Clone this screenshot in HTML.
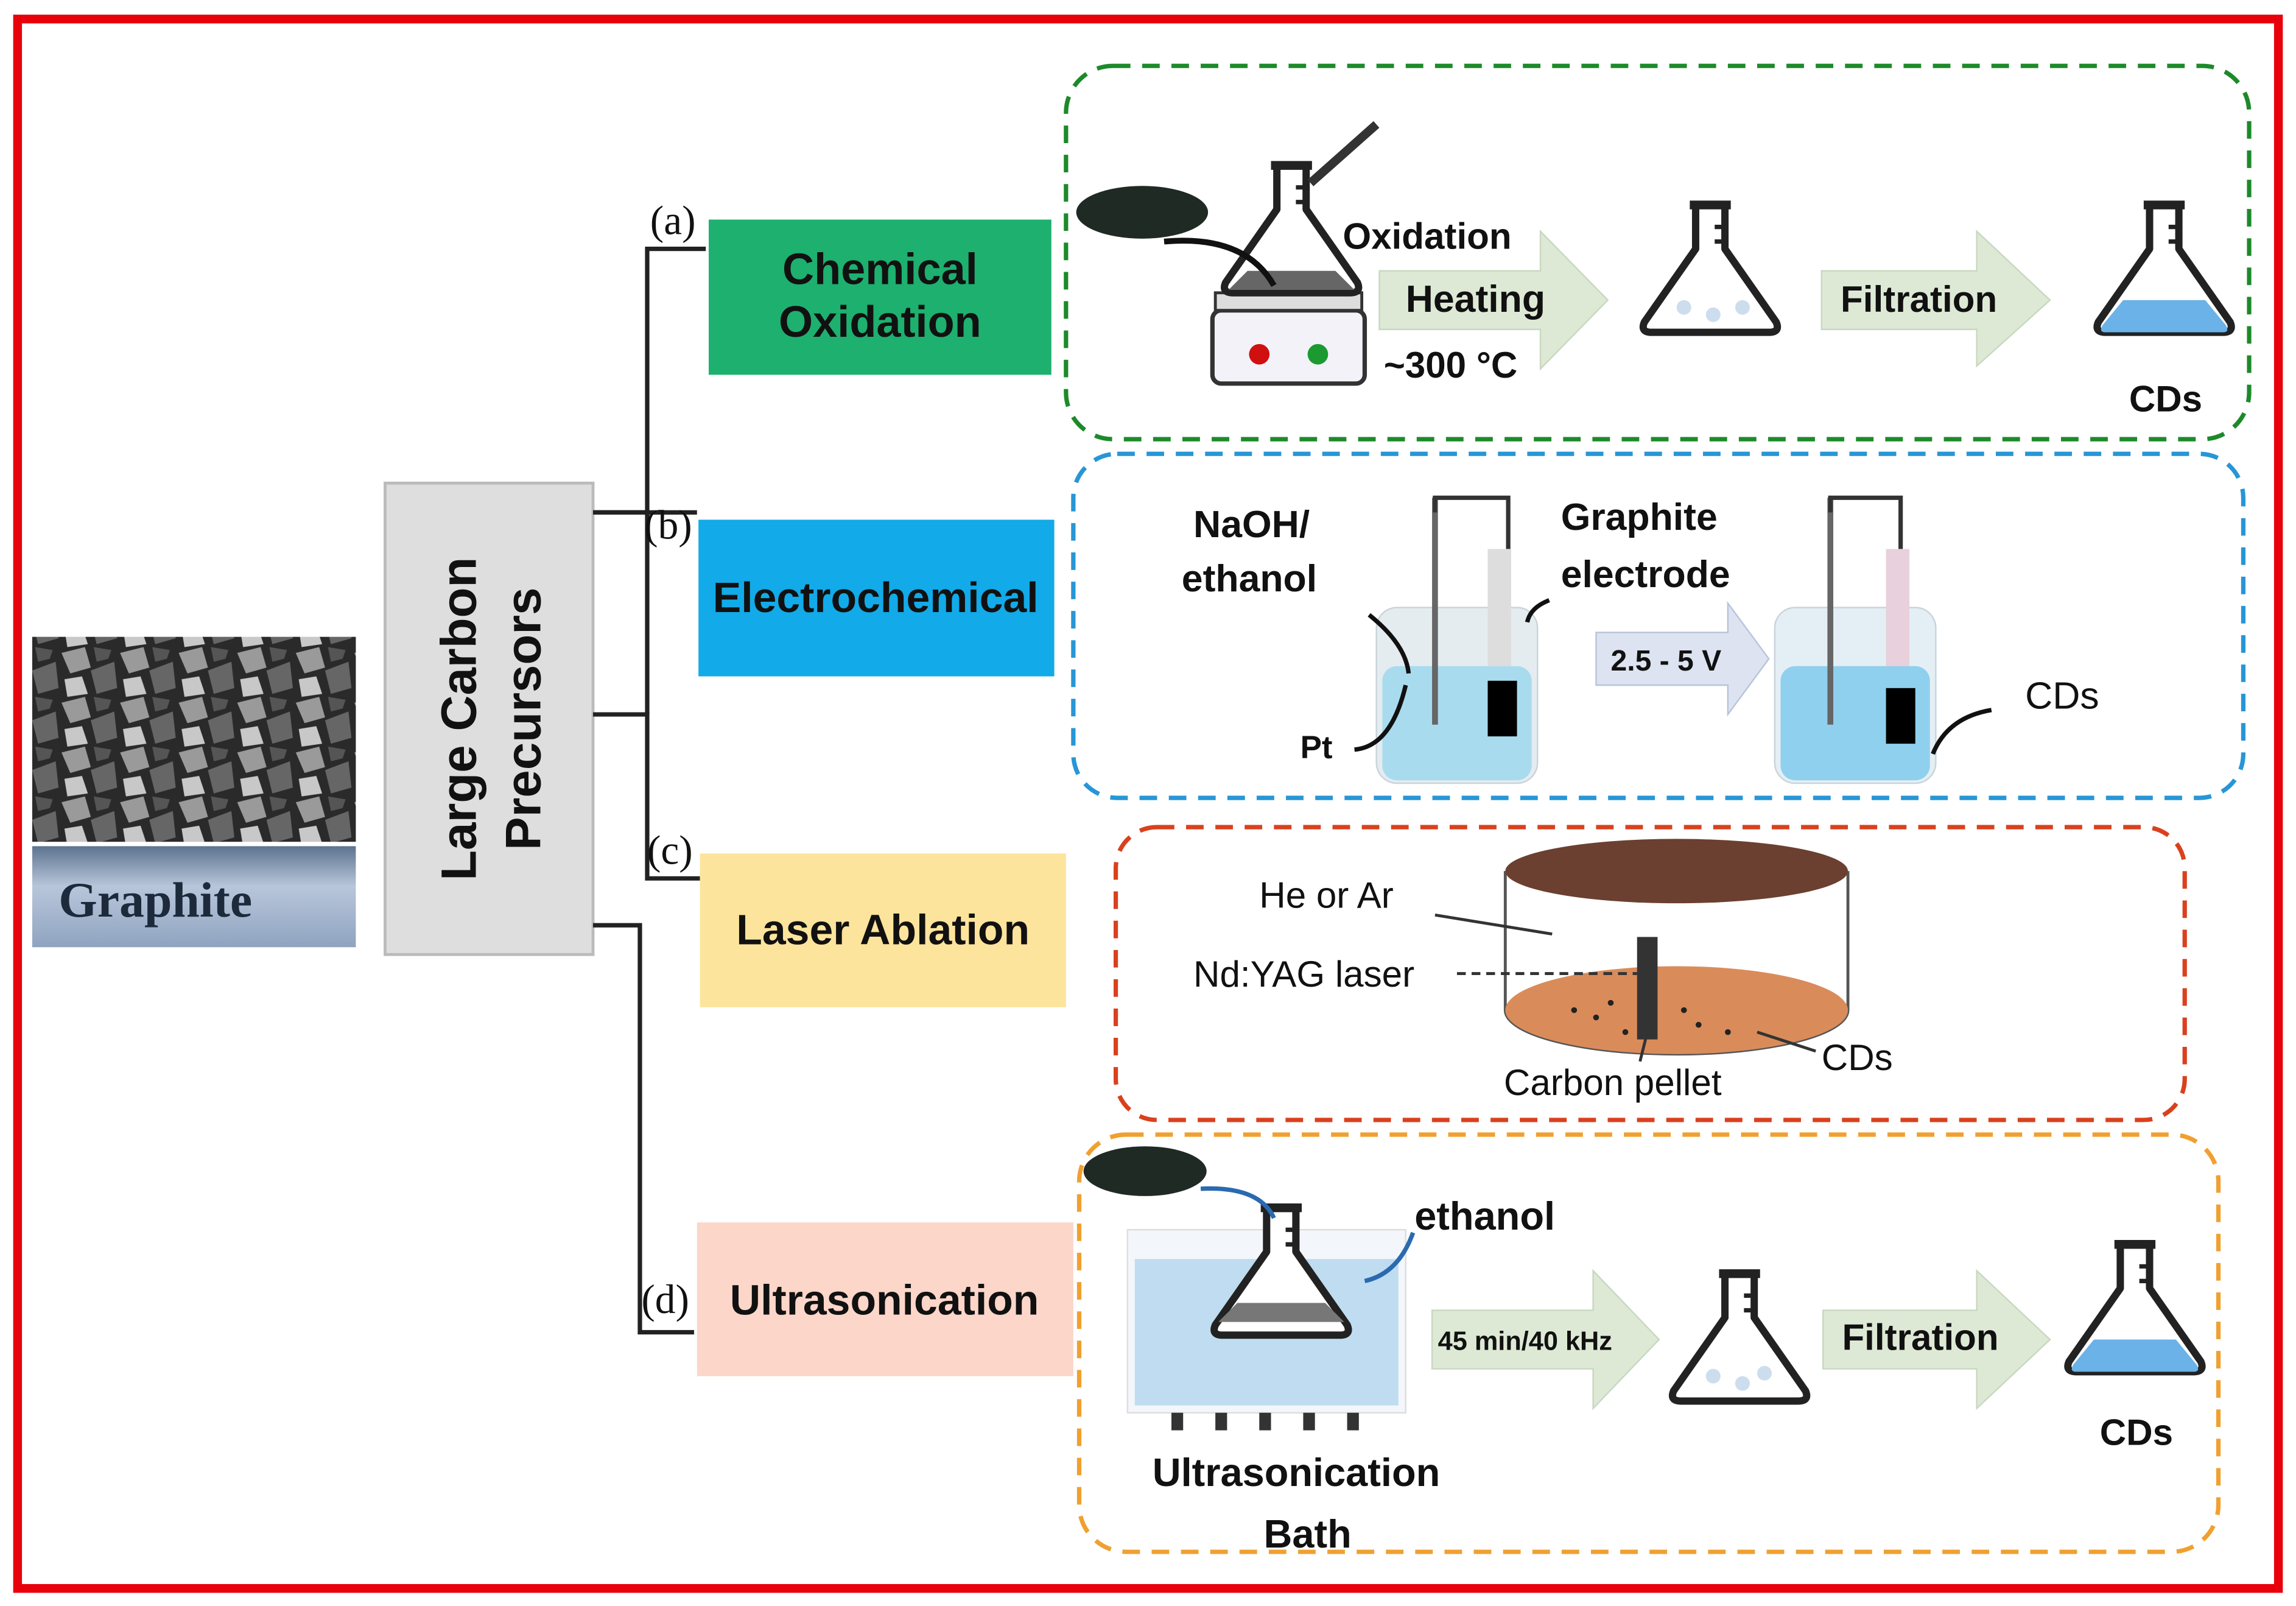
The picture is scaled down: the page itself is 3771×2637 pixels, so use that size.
<!DOCTYPE html>
<html><head><meta charset="utf-8"><style>
html,body{margin:0;padding:0;background:#fff;}
svg{display:block;}
text{font-family:"Liberation Sans",sans-serif;font-weight:bold;fill:#111;}
</style></head><body>
<svg width="3771" height="2637" viewBox="0 0 1568 1097" preserveAspectRatio="none" xmlns="http://www.w3.org/2000/svg">
<defs>
<linearGradient id="gb" x1="0" y1="0" x2="0" y2="1"><stop offset="0" stop-color="#5d7390"/><stop offset="0.4" stop-color="#b8c6da"/><stop offset="1" stop-color="#8fa3c0"/></linearGradient>
<linearGradient id="gr" x1="0" y1="0" x2="1" y2="1"><stop offset="0" stop-color="#333"/><stop offset="0.5" stop-color="#888"/><stop offset="1" stop-color="#222"/></linearGradient>
<pattern id="rock" width="40" height="34" patternUnits="userSpaceOnUse"><rect width="40" height="34" fill="#2a2a2a"/><polygon points="2,4 18,0 22,14 8,18" fill="#9a9a9a"/><polygon points="22,16 38,10 40,28 26,32" fill="#666"/><polygon points="4,22 16,20 20,32 6,34" fill="#c8c8c8"/><polygon points="24,0 36,2 34,8 26,10" fill="#555"/></pattern>
<g id="flask"><path d="M-10,-45 L10,-45 L10,-15 L45,35 Q48,42 40,42 L-40,42 Q-48,42 -45,35 L-10,-15 Z" fill="#fff" stroke="#222" stroke-width="5" stroke-linejoin="round"/><line x1="-14" y1="-45" x2="14" y2="-45" stroke="#222" stroke-width="6"/><line x1="3" y1="-30" x2="10" y2="-30" stroke="#222" stroke-width="3"/><line x1="3" y1="-20" x2="10" y2="-20" stroke="#222" stroke-width="3"/></g>
</defs>
<rect x="0" y="0" width="1568" height="1097" fill="#fff"/>
<rect x="12" y="13" width="1544" height="1072" fill="none" stroke="#e8000b" stroke-width="6"/>

<!-- graphite -->
<rect x="22" y="435" width="221" height="140" fill="url(#rock)"/>
<rect x="22" y="578" width="221" height="69" fill="url(#gb)"/>
<text x="40" y="626" style="font-family:'Liberation Serif',serif;font-size:34px;fill:#1c2a3c">Graphite</text>

<!-- large carbon precursors -->
<rect x="263" y="330" width="142" height="322" fill="#dedede" stroke="#bbb" stroke-width="2"/>
<text transform="translate(325,491) rotate(-90)" text-anchor="middle" style="font-size:34px">Large Carbon</text>
<text transform="translate(369,491) rotate(-90)" text-anchor="middle" style="font-size:34px">Precursors</text>

<!-- tree lines -->
<g stroke="#222" stroke-width="3" fill="none">
<polyline points="482,170 442,170 442,350 405,350"/>
<polyline points="405,350 442,350 442,350"/>
<polyline points="476,350 442,350"/>
<polyline points="405,488 442,488 442,600 478,600"/>
<line x1="442" y1="350" x2="442" y2="488"/>
<polyline points="405,632 437,632 437,910 474,910"/>
</g>
<g style="font-family:'Liberation Serif',serif" >
<text x="444" y="160" style="font-family:'Liberation Serif',serif;font-weight:normal;font-size:28px">(a)</text>
<text x="440" y="368" style="font-family:'Liberation Serif',serif;font-weight:normal;font-size:28px">(b)</text>
<text x="442" y="590" style="font-family:'Liberation Serif',serif;font-weight:normal;font-size:28px">(c)</text>
<text x="438" y="897" style="font-family:'Liberation Serif',serif;font-weight:normal;font-size:28px">(d)</text>
</g>

<!-- method boxes -->
<rect x="484" y="150" width="234" height="106" fill="#1db06f"/>
<text x="601" y="194" text-anchor="middle" style="font-size:30px">Chemical</text>
<text x="601" y="230" text-anchor="middle" style="font-size:30px">Oxidation</text>
<rect x="477" y="355" width="243" height="107" fill="#12aae8"/>
<text x="598" y="418" text-anchor="middle" style="font-size:29px">Electrochemical</text>
<rect x="478" y="583" width="250" height="105" fill="#fde49c"/>
<text x="603" y="645" text-anchor="middle" style="font-size:29px">Laser Ablation</text>
<rect x="476" y="835" width="257" height="105" fill="#fbd6c9"/>
<text x="604" y="898" text-anchor="middle" style="font-size:29px">Ultrasonication</text>

<!-- dashed panels -->
<rect x="728" y="45" width="808" height="255" rx="32" fill="none" stroke="#1d8a2a" stroke-width="3" stroke-dasharray="12,8"/>
<rect x="733" y="310" width="799" height="235" rx="30" fill="none" stroke="#2796d6" stroke-width="3" stroke-dasharray="12,8"/>
<rect x="762" y="565" width="730" height="200" rx="28" fill="none" stroke="#d9411e" stroke-width="3" stroke-dasharray="12,8"/>
<rect x="737" y="775" width="778" height="285" rx="32" fill="none" stroke="#f0a030" stroke-width="3" stroke-dasharray="12,8"/>

<!-- panel a -->
<ellipse cx="780" cy="145" rx="45" ry="18" fill="#1f2a24"/>
<rect x="828" y="212" width="104" height="50" rx="6" fill="#f2f2f8" stroke="#333" stroke-width="3"/>
<rect x="830" y="200" width="100" height="12" fill="#ddd" stroke="#333" stroke-width="2"/>
<circle cx="860" cy="242" r="7" fill="#d01010"/><circle cx="900" cy="242" r="7" fill="#1a9a30"/>
<use href="#flask" x="882" y="158"/>
<path d="M852,185 L912,185 L925,198 L839,198 Z" fill="#666"/>
<line x1="895" y1="125" x2="940" y2="85" stroke="#333" stroke-width="6"/>
<path d="M795,165 Q850,160 870,195" stroke="#111" stroke-width="4" fill="none"/>
<text x="917" y="170" style="font-size:25px">Oxidation</text>
<polygon points="942,185 1052,185 1052,158 1098,205 1052,252 1052,225 942,225" fill="#dde9d5" stroke="#c8d8c0"/>
<text x="960" y="213" style="font-size:26px">Heating</text>
<text x="945" y="258" style="font-size:25px">~300 °C</text>
<use href="#flask" x="1168" y="185"/>
<circle cx="1150" cy="210" r="5" fill="#cde"/><circle cx="1170" cy="215" r="5" fill="#cde"/><circle cx="1190" cy="210" r="5" fill="#cde"/>
<polygon points="1244,185 1350,185 1350,158 1400,205 1350,250 1350,225 1244,225" fill="#dde9d5" stroke="#c8d8c0"/>
<text x="1257" y="213" style="font-size:25px">Filtration</text>
<use href="#flask" x="1478" y="185"/>
<path d="M1450,205 L1506,205 L1520,222 Q1523,227 1518,227 L1438,227 Q1433,227 1436,222 Z" fill="#6ab2e8"/>
<text x="1454" y="281" style="font-size:25px">CDs</text>

<!-- panel b -->
<text x="815" y="367" style="font-size:26px">NaOH/</text>
<text x="807" y="404" style="font-size:26px">ethanol</text>
<text x="1066" y="362" style="font-size:26px">Graphite</text>
<text x="1066" y="401" style="font-size:26px">electrode</text>
<rect x="940" y="415" width="110" height="120" rx="14" fill="#e4ecf0" stroke="#c8d4da"/>
<rect x="944" y="455" width="102" height="78" rx="10" fill="#a9dbee"/>
<line x1="980" y1="340" x2="980" y2="495" stroke="#666" stroke-width="4"/>
<rect x="1016" y="375" width="16" height="80" fill="#ddd"/>
<rect x="1016" y="465" width="20" height="38" fill="#000"/>
<polyline points="980,350 980,340 1030,340 1030,375" stroke="#333" stroke-width="3" fill="none"/>
<path d="M935,420 Q960,440 962,460" stroke="#111" stroke-width="3" fill="none"/>
<path d="M1058,410 Q1045,415 1043,425" stroke="#111" stroke-width="3" fill="none"/>
<path d="M925,512 Q950,510 960,468" stroke="#111" stroke-width="3" fill="none"/>
<text x="888" y="518" style="font-size:22px">Pt</text>
<polygon points="1090,432 1180,432 1180,412 1208,450 1180,488 1180,468 1090,468" fill="#dde3f0" stroke="#b8c4da"/>
<text x="1100" y="458" style="font-size:20px">2.5 - 5 V</text>
<rect x="1212" y="415" width="110" height="120" rx="14" fill="#e4eff5" stroke="#c8d4da"/>
<rect x="1216" y="455" width="102" height="78" rx="10" fill="#8fd0ee"/>
<line x1="1250" y1="340" x2="1250" y2="495" stroke="#666" stroke-width="4"/>
<rect x="1288" y="375" width="16" height="80" fill="#e8d0dc"/>
<rect x="1288" y="470" width="20" height="38" fill="#000"/>
<polyline points="1250,350 1250,340 1298,340 1298,375" stroke="#333" stroke-width="3" fill="none"/>
<path d="M1360,485 Q1330,490 1320,515" stroke="#111" stroke-width="3" fill="none"/>
<text x="1383" y="484" style="font-size:26px;font-weight:normal">CDs</text>

<!-- panel c -->
<path d="M1028,595 L1028,690 A117,30 0 0 0 1262,690 L1262,595" fill="#fff" stroke="#555" stroke-width="2"/>
<ellipse cx="1145" cy="690" rx="117" ry="30" fill="#d98c5a"/>
<ellipse cx="1145" cy="595" rx="117" ry="22" fill="#6b4030"/>
<rect x="1118" y="640" width="14" height="70" fill="#333"/>
<text x="860" y="620" style="font-size:25px;font-weight:normal">He or Ar</text>
<line x1="980" y1="625" x2="1060" y2="638" stroke="#333" stroke-width="2"/>
<text x="815" y="674" style="font-size:25px;font-weight:normal">Nd:YAG laser</text>
<line x1="995" y1="665" x2="1118" y2="665" stroke="#333" stroke-width="2" stroke-dasharray="6,4"/>
<g fill="#222"><circle cx="1100" cy="685" r="2"/><circle cx="1090" cy="695" r="2"/><circle cx="1150" cy="690" r="2"/><circle cx="1160" cy="700" r="2"/><circle cx="1110" cy="705" r="2"/><circle cx="1180" cy="705" r="2"/><circle cx="1075" cy="690" r="2"/></g>
<text x="1027" y="748" style="font-size:25px;font-weight:normal">Carbon pellet</text>
<line x1="1120" y1="725" x2="1125" y2="705" stroke="#333" stroke-width="2"/>
<text x="1244" y="731" style="font-size:25px;font-weight:normal">CDs</text>
<line x1="1240" y1="718" x2="1200" y2="705" stroke="#333" stroke-width="2"/>

<!-- panel d -->
<ellipse cx="782" cy="800" rx="42" ry="17" fill="#1f2a24"/>
<rect x="770" y="840" width="190" height="125" fill="#f3f6fa" stroke="#ddd"/>
<rect x="775" y="860" width="180" height="100" fill="#bfdcf0"/>
<use href="#flask" x="875" y="870"/>
<path d="M845,890 L905,890 L918,903 L832,903 Z" fill="#777"/>
<g fill="#333"><rect x="800" y="965" width="8" height="12"/><rect x="830" y="965" width="8" height="12"/><rect x="860" y="965" width="8" height="12"/><rect x="890" y="965" width="8" height="12"/><rect x="920" y="965" width="8" height="12"/></g>
<path d="M820,812 Q860,810 870,832" stroke="#2a6ab0" stroke-width="3" fill="none"/>
<path d="M965,842 Q955,870 932,875" stroke="#2a6ab0" stroke-width="3" fill="none"/>
<text x="966" y="840" style="font-size:27px">ethanol</text>
<text x="787" y="1015" style="font-size:27px">Ultrasonication</text>
<text x="863" y="1057" style="font-size:27px">Bath</text>
<polygon points="978,895 1088,895 1088,868 1133,915 1088,962 1088,935 978,935" fill="#dde9d5" stroke="#c8d8c0"/>
<text x="982" y="922" style="font-size:18px">45 min/40 kHz</text>
<use href="#flask" x="1188" y="915"/>
<circle cx="1170" cy="940" r="5" fill="#cde"/><circle cx="1190" cy="945" r="5" fill="#cde"/><circle cx="1205" cy="938" r="5" fill="#cde"/>
<polygon points="1245,895 1350,895 1350,868 1400,915 1350,962 1350,935 1245,935" fill="#dde9d5" stroke="#c8d8c0"/>
<text x="1258" y="922" style="font-size:25px">Filtration</text>
<use href="#flask" x="1458" y="895"/>
<path d="M1430,915 L1486,915 L1500,932 Q1503,937 1498,937 L1418,937 Q1413,937 1416,932 Z" fill="#6ab2e8"/>
<text x="1434" y="987" style="font-size:25px">CDs</text>
</svg>
</body></html>
